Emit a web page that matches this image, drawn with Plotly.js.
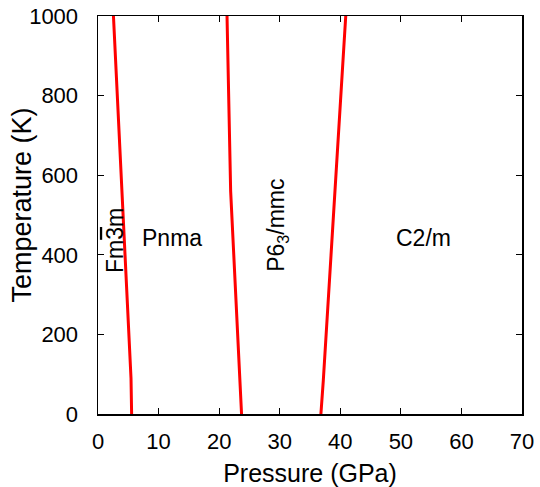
<!DOCTYPE html>
<html><head><meta charset="utf-8">
<script src="https://cdn.plot.ly/plotly-3.0.1.min.js"></script>
<style>body{margin:0;background:#fff}#c{width:540px;height:487px}</style>
</head><body><div id="c"></div>
<script>
// Phase boundaries: pressure (GPa) vs temperature (K)
const b1P = [5.55, 5.45, 2.55];
const b1T = [0, 90, 1000];
const b2P = [23.7, 21.9, 21.3];
const b2T = [0, 560, 1000];
const b3P = [36.8, 37.2, 40.9];
const b3T = [0, 85, 1000];

const phaseNames = ["Fm<span style=\"text-decoration:overline\">3</span>m", "Pnma", "P6<sub>3</sub>/mmc", "C2/m"];
const phaseP = [2.8, 12.2, 29.7, 53.8];
const phaseT = [437, 442, 475, 442];
const phaseAngle = [-90, 0, -90, 0];

const xTitle = "Pressure (GPa)";
const yTitle = "Temperature (K)";

const font = "Liberation Sans, Arial, sans-serif";
const lineStyle = {color: "#ff0000", width: 3};
const traces = [
  {x: b1P, y: b1T, mode: "lines", line: lineStyle, hoverinfo: "skip"},
  {x: b2P, y: b2T, mode: "lines", line: lineStyle, hoverinfo: "skip"},
  {x: b3P, y: b3T, mode: "lines", line: lineStyle, hoverinfo: "skip"}
];
const annotations = phaseNames.map((t, i) => ({
  x: phaseP[i], y: phaseT[i], xref: "x", yref: "y", text: t, showarrow: false,
  textangle: phaseAngle[i], font: {family: font, size: 23, color: "#000"}
}));
annotations.push({
  x: -0.179, y: 0.524, xref: "paper", yref: "paper", text: yTitle, showarrow: false,
  textangle: -90, xanchor: "center", yanchor: "middle",
  font: {family: font, size: 27, color: "#000"}
});
const axisCommon = {
  showgrid: false, zeroline: false, showline: true, linecolor: "#000", linewidth: 1.5,
  mirror: "ticks", ticks: "inside", ticklen: 6, tickcolor: "#000", tickwidth: 1,
  tickfont: {family: font, size: 22, color: "#000"}
};
const layout = {
  width: 540, height: 487, showlegend: false,
  margin: {l: 98, r: 18, t: 16, b: 73},
  paper_bgcolor: "#fff", plot_bgcolor: "#fff",
  xaxis: Object.assign({}, axisCommon, {range: [0, 70], dtick: 10, ticklabelstandoff: 7,
    title: {text: xTitle, font: {family: font, size: 25, color: "#000"}, standoff: 13}}),
  yaxis: Object.assign({}, axisCommon, {range: [0, 1000], dtick: 200, ticklabelstandoff: 14}),
  annotations: annotations
};
Plotly.newPlot("c", traces, layout, {displayModeBar: false, staticPlot: true});
</script></body></html>
